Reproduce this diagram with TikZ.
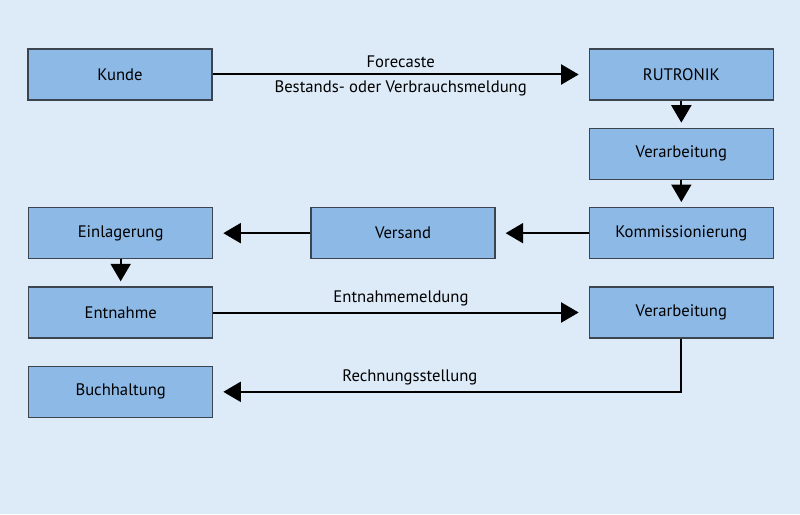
\documentclass[tikz,border=0pt]{standalone}
\usepackage{fontspec}
\setmainfont{PT Sans}
\usetikzlibrary{positioning,arrows.meta}
\definecolor{bgblue}{RGB}{221,234,248}
\definecolor{boxblue}{RGB}{141,185,230}
\definecolor{boxline}{RGB}{60,68,80}

\begin{document}
\begin{tikzpicture}[
  x=0.6pt, y=-0.6pt,
  node distance=16.2pt and 55.8pt,
  blk/.style={draw=boxline, thick, fill=boxblue, minimum width=110.4pt,
              minimum height=30.6pt, inner sep=0pt, font=\fontsize{10}{12}\selectfont},
  arr/.style={-{Triangle[length=10.5pt,width=12pt]}, line width=1.2pt, shorten >=6pt},
  darr/.style={arr, shorten >=3pt},
  lbl/.style={font=\fontsize{10}{12}\selectfont}
]
\fill[bgblue] (0,0) rectangle (800,514);
\useasboundingbox (0,0) rectangle (800,514);

\node[blk] (kunde) at (120,74.5) {Kunde};
\node[blk, right=225.6pt of kunde]  (rutronik) {RUTRONIK};
\node[blk, below=of rutronik]       (verarb)   {Verarbeitung};
\node[blk, below=of verarb]         (komm)     {Kommissionierung};
\node[blk, left=of komm]            (versand)  {Versand};
\node[blk, left=58.2pt of versand]  (einl)     {Einlagerung};
\node[blk, below=of einl]           (entn)     {Entnahme};
\node[blk, below=of komm]           (verarbb)  {Verarbeitung};
\node[blk, below=of entn]           (buch)     {Buchhaltung};

\draw[arr] (kunde.east) --
  node[lbl, above]{Forecaste}
  node[lbl, below]{Bestands- oder Verbrauchsmeldung} (rutronik.west);
\draw[darr] (rutronik.south) -- (verarb.north);
\draw[darr] (verarb.south) -- (komm.north);
\draw[arr] (komm.west) -- (versand.east);
\draw[arr] (versand.west) -- (einl.east);
\draw[darr] (einl.south) -- (entn.north);
\draw[arr] (entn.east) -- node[lbl, above]{Entnahmemeldung} (verarbb.west);
\draw[arr] (verarbb.south) |- node[lbl, above, pos=0.79]{Rechnungsstellung} (buch.east);
\end{tikzpicture}
\end{document}
